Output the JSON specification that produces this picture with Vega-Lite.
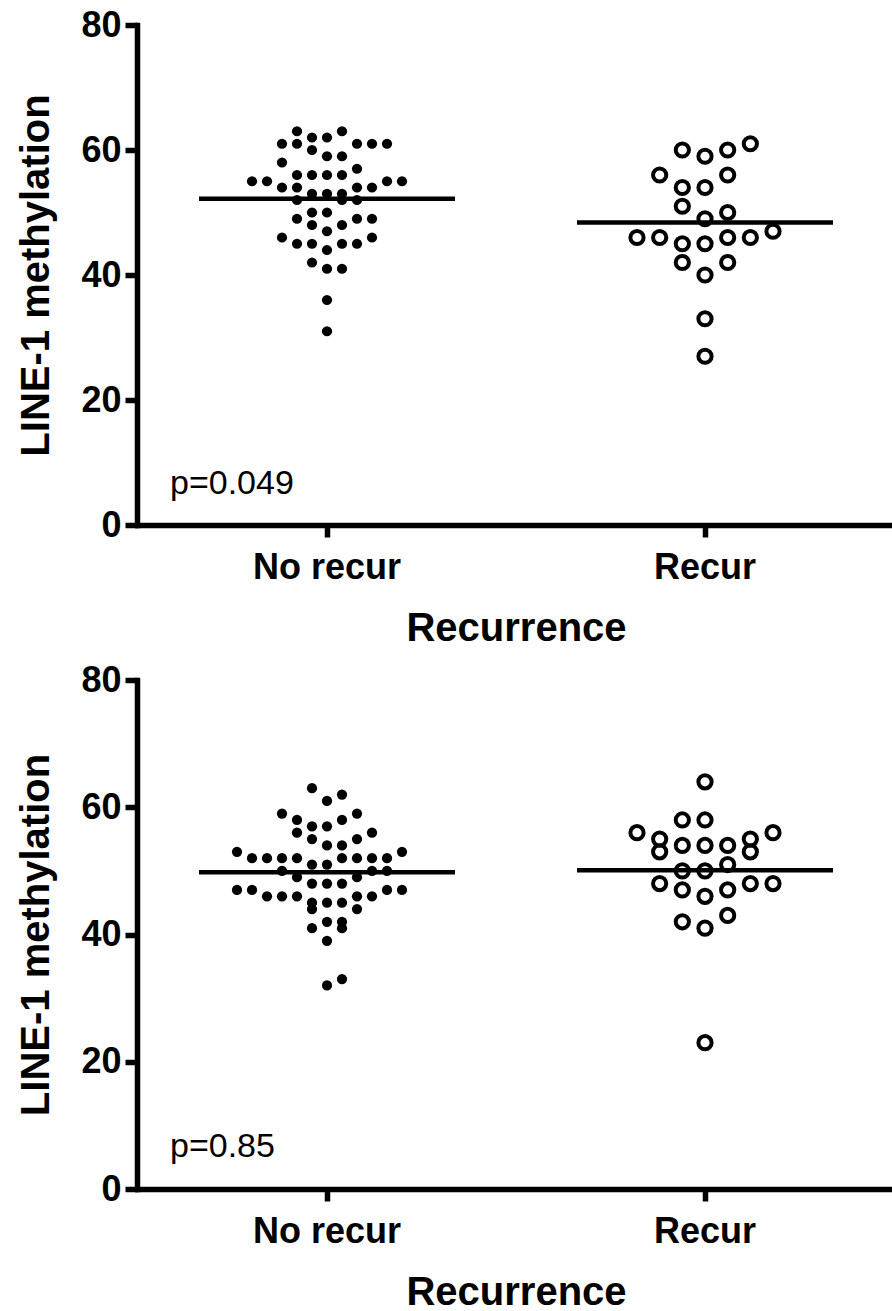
{
  "$schema": "https://vega.github.io/schema/vega-lite/v6.json",
  "padding": {"left": 16, "top": 7, "right": 0, "bottom": 0},
  "background": "white",
  "config": {
    "view": {"stroke": null},
    "font": "Liberation Sans",
    "axis": {
      "domainColor": "black", "domainWidth": 5.5, "domainCap": "square",
      "tickColor": "black", "tickWidth": 5.5, "tickSize": 12,
      "labelFont": "Liberation Sans", "labelFontWeight": "bold", "labelFontSize": 36, "labelColor": "black",
      "titleFont": "Liberation Sans", "titleFontWeight": "bold", "titleFontSize": 40, "titleColor": "black",
      "grid": false
    }
  },
  "datasets": {
    "points": [
      {"panel": "top", "group": "No recur", "value": 63, "slot": -2},
      {"panel": "top", "group": "No recur", "value": 63, "slot": 1},
      {"panel": "top", "group": "No recur", "value": 62, "slot": -1},
      {"panel": "top", "group": "No recur", "value": 62, "slot": 0},
      {"panel": "top", "group": "No recur", "value": 61, "slot": -3},
      {"panel": "top", "group": "No recur", "value": 61, "slot": -2},
      {"panel": "top", "group": "No recur", "value": 61, "slot": 2},
      {"panel": "top", "group": "No recur", "value": 61, "slot": 3},
      {"panel": "top", "group": "No recur", "value": 61, "slot": 4},
      {"panel": "top", "group": "No recur", "value": 60, "slot": -1},
      {"panel": "top", "group": "No recur", "value": 59, "slot": 0},
      {"panel": "top", "group": "No recur", "value": 59, "slot": 1},
      {"panel": "top", "group": "No recur", "value": 58, "slot": -3},
      {"panel": "top", "group": "No recur", "value": 57, "slot": 2},
      {"panel": "top", "group": "No recur", "value": 56, "slot": -2},
      {"panel": "top", "group": "No recur", "value": 56, "slot": -1},
      {"panel": "top", "group": "No recur", "value": 56, "slot": 0},
      {"panel": "top", "group": "No recur", "value": 56, "slot": 1},
      {"panel": "top", "group": "No recur", "value": 55, "slot": -5},
      {"panel": "top", "group": "No recur", "value": 55, "slot": -4},
      {"panel": "top", "group": "No recur", "value": 55, "slot": 4},
      {"panel": "top", "group": "No recur", "value": 55, "slot": 5},
      {"panel": "top", "group": "No recur", "value": 54, "slot": -3},
      {"panel": "top", "group": "No recur", "value": 54, "slot": -2},
      {"panel": "top", "group": "No recur", "value": 54, "slot": 2},
      {"panel": "top", "group": "No recur", "value": 54, "slot": 3},
      {"panel": "top", "group": "No recur", "value": 53, "slot": -1},
      {"panel": "top", "group": "No recur", "value": 53, "slot": 0},
      {"panel": "top", "group": "No recur", "value": 53, "slot": 1},
      {"panel": "top", "group": "No recur", "value": 52, "slot": -2},
      {"panel": "top", "group": "No recur", "value": 52, "slot": 1},
      {"panel": "top", "group": "No recur", "value": 52, "slot": 2},
      {"panel": "top", "group": "No recur", "value": 50, "slot": -1},
      {"panel": "top", "group": "No recur", "value": 50, "slot": 0},
      {"panel": "top", "group": "No recur", "value": 49, "slot": -2},
      {"panel": "top", "group": "No recur", "value": 49, "slot": 2},
      {"panel": "top", "group": "No recur", "value": 49, "slot": 3},
      {"panel": "top", "group": "No recur", "value": 48, "slot": -1},
      {"panel": "top", "group": "No recur", "value": 48, "slot": 1},
      {"panel": "top", "group": "No recur", "value": 47, "slot": 0},
      {"panel": "top", "group": "No recur", "value": 46, "slot": -3},
      {"panel": "top", "group": "No recur", "value": 46, "slot": 3},
      {"panel": "top", "group": "No recur", "value": 45, "slot": -2},
      {"panel": "top", "group": "No recur", "value": 45, "slot": -1},
      {"panel": "top", "group": "No recur", "value": 45, "slot": 1},
      {"panel": "top", "group": "No recur", "value": 45, "slot": 2},
      {"panel": "top", "group": "No recur", "value": 44, "slot": 0},
      {"panel": "top", "group": "No recur", "value": 42, "slot": -1},
      {"panel": "top", "group": "No recur", "value": 41, "slot": 0},
      {"panel": "top", "group": "No recur", "value": 41, "slot": 1},
      {"panel": "top", "group": "No recur", "value": 36, "slot": 0},
      {"panel": "top", "group": "No recur", "value": 31, "slot": 0},

      {"panel": "top", "group": "Recur", "value": 61, "slot": 2},
      {"panel": "top", "group": "Recur", "value": 60, "slot": -1},
      {"panel": "top", "group": "Recur", "value": 60, "slot": 1},
      {"panel": "top", "group": "Recur", "value": 59, "slot": 0},
      {"panel": "top", "group": "Recur", "value": 56, "slot": -2},
      {"panel": "top", "group": "Recur", "value": 56, "slot": 1},
      {"panel": "top", "group": "Recur", "value": 54, "slot": -1},
      {"panel": "top", "group": "Recur", "value": 54, "slot": 0},
      {"panel": "top", "group": "Recur", "value": 51, "slot": -1},
      {"panel": "top", "group": "Recur", "value": 50, "slot": 1},
      {"panel": "top", "group": "Recur", "value": 49, "slot": 0},
      {"panel": "top", "group": "Recur", "value": 47, "slot": 3},
      {"panel": "top", "group": "Recur", "value": 46, "slot": -3},
      {"panel": "top", "group": "Recur", "value": 46, "slot": -2},
      {"panel": "top", "group": "Recur", "value": 46, "slot": 1},
      {"panel": "top", "group": "Recur", "value": 46, "slot": 2},
      {"panel": "top", "group": "Recur", "value": 45, "slot": -1},
      {"panel": "top", "group": "Recur", "value": 45, "slot": 0},
      {"panel": "top", "group": "Recur", "value": 42, "slot": -1},
      {"panel": "top", "group": "Recur", "value": 42, "slot": 1},
      {"panel": "top", "group": "Recur", "value": 40, "slot": 0},
      {"panel": "top", "group": "Recur", "value": 33, "slot": 0},
      {"panel": "top", "group": "Recur", "value": 27, "slot": 0},

      {"panel": "bottom", "group": "No recur", "value": 63, "slot": -1},
      {"panel": "bottom", "group": "No recur", "value": 62, "slot": 1},
      {"panel": "bottom", "group": "No recur", "value": 61, "slot": 0},
      {"panel": "bottom", "group": "No recur", "value": 59, "slot": -3},
      {"panel": "bottom", "group": "No recur", "value": 59, "slot": 2},
      {"panel": "bottom", "group": "No recur", "value": 58, "slot": -2},
      {"panel": "bottom", "group": "No recur", "value": 58, "slot": 1},
      {"panel": "bottom", "group": "No recur", "value": 57, "slot": -1},
      {"panel": "bottom", "group": "No recur", "value": 57, "slot": 0},
      {"panel": "bottom", "group": "No recur", "value": 56, "slot": -2},
      {"panel": "bottom", "group": "No recur", "value": 56, "slot": 3},
      {"panel": "bottom", "group": "No recur", "value": 55, "slot": -1},
      {"panel": "bottom", "group": "No recur", "value": 55, "slot": 2},
      {"panel": "bottom", "group": "No recur", "value": 54, "slot": 0},
      {"panel": "bottom", "group": "No recur", "value": 54, "slot": 1},
      {"panel": "bottom", "group": "No recur", "value": 53, "slot": -6},
      {"panel": "bottom", "group": "No recur", "value": 53, "slot": 5},
      {"panel": "bottom", "group": "No recur", "value": 52, "slot": -5},
      {"panel": "bottom", "group": "No recur", "value": 52, "slot": -4},
      {"panel": "bottom", "group": "No recur", "value": 52, "slot": -3},
      {"panel": "bottom", "group": "No recur", "value": 52, "slot": -2},
      {"panel": "bottom", "group": "No recur", "value": 52, "slot": 1},
      {"panel": "bottom", "group": "No recur", "value": 52, "slot": 2},
      {"panel": "bottom", "group": "No recur", "value": 52, "slot": 3},
      {"panel": "bottom", "group": "No recur", "value": 52, "slot": 4},
      {"panel": "bottom", "group": "No recur", "value": 51, "slot": -1},
      {"panel": "bottom", "group": "No recur", "value": 51, "slot": 0},
      {"panel": "bottom", "group": "No recur", "value": 50, "slot": -3},
      {"panel": "bottom", "group": "No recur", "value": 50, "slot": 3},
      {"panel": "bottom", "group": "No recur", "value": 50, "slot": 4},
      {"panel": "bottom", "group": "No recur", "value": 49, "slot": -2},
      {"panel": "bottom", "group": "No recur", "value": 49, "slot": 2},
      {"panel": "bottom", "group": "No recur", "value": 48, "slot": -1},
      {"panel": "bottom", "group": "No recur", "value": 48, "slot": 0},
      {"panel": "bottom", "group": "No recur", "value": 48, "slot": 1},
      {"panel": "bottom", "group": "No recur", "value": 47, "slot": -6},
      {"panel": "bottom", "group": "No recur", "value": 47, "slot": -5},
      {"panel": "bottom", "group": "No recur", "value": 47, "slot": 4},
      {"panel": "bottom", "group": "No recur", "value": 47, "slot": 5},
      {"panel": "bottom", "group": "No recur", "value": 46, "slot": -4},
      {"panel": "bottom", "group": "No recur", "value": 46, "slot": -3},
      {"panel": "bottom", "group": "No recur", "value": 46, "slot": -2},
      {"panel": "bottom", "group": "No recur", "value": 46, "slot": 2},
      {"panel": "bottom", "group": "No recur", "value": 46, "slot": 3},
      {"panel": "bottom", "group": "No recur", "value": 45, "slot": -1},
      {"panel": "bottom", "group": "No recur", "value": 45, "slot": 0},
      {"panel": "bottom", "group": "No recur", "value": 45, "slot": 1},
      {"panel": "bottom", "group": "No recur", "value": 44, "slot": -1},
      {"panel": "bottom", "group": "No recur", "value": 44, "slot": 2},
      {"panel": "bottom", "group": "No recur", "value": 42, "slot": 0},
      {"panel": "bottom", "group": "No recur", "value": 42, "slot": 1},
      {"panel": "bottom", "group": "No recur", "value": 41, "slot": -1},
      {"panel": "bottom", "group": "No recur", "value": 41, "slot": 1},
      {"panel": "bottom", "group": "No recur", "value": 39, "slot": 0},
      {"panel": "bottom", "group": "No recur", "value": 33, "slot": 1},
      {"panel": "bottom", "group": "No recur", "value": 32, "slot": 0},

      {"panel": "bottom", "group": "Recur", "value": 64, "slot": 0},
      {"panel": "bottom", "group": "Recur", "value": 58, "slot": -1},
      {"panel": "bottom", "group": "Recur", "value": 58, "slot": 0},
      {"panel": "bottom", "group": "Recur", "value": 56, "slot": -3},
      {"panel": "bottom", "group": "Recur", "value": 56, "slot": 3},
      {"panel": "bottom", "group": "Recur", "value": 55, "slot": -2},
      {"panel": "bottom", "group": "Recur", "value": 55, "slot": 2},
      {"panel": "bottom", "group": "Recur", "value": 54, "slot": -1},
      {"panel": "bottom", "group": "Recur", "value": 54, "slot": 0},
      {"panel": "bottom", "group": "Recur", "value": 54, "slot": 1},
      {"panel": "bottom", "group": "Recur", "value": 53, "slot": -2},
      {"panel": "bottom", "group": "Recur", "value": 53, "slot": 2},
      {"panel": "bottom", "group": "Recur", "value": 51, "slot": 1},
      {"panel": "bottom", "group": "Recur", "value": 50, "slot": -1},
      {"panel": "bottom", "group": "Recur", "value": 50, "slot": 0},
      {"panel": "bottom", "group": "Recur", "value": 48, "slot": -2},
      {"panel": "bottom", "group": "Recur", "value": 48, "slot": 2},
      {"panel": "bottom", "group": "Recur", "value": 48, "slot": 3},
      {"panel": "bottom", "group": "Recur", "value": 47, "slot": -1},
      {"panel": "bottom", "group": "Recur", "value": 47, "slot": 1},
      {"panel": "bottom", "group": "Recur", "value": 46, "slot": 0},
      {"panel": "bottom", "group": "Recur", "value": 43, "slot": 1},
      {"panel": "bottom", "group": "Recur", "value": 42, "slot": -1},
      {"panel": "bottom", "group": "Recur", "value": 41, "slot": 0},
      {"panel": "bottom", "group": "Recur", "value": 23, "slot": 0}
    ],
    "means": [
      {"panel": "top", "group": "No recur", "value": 52.2},
      {"panel": "top", "group": "Recur", "value": 48.4},
      {"panel": "bottom", "group": "No recur", "value": 49.8},
      {"panel": "bottom", "group": "Recur", "value": 50.1}
    ],
    "pvals": [
      {"panel": "top", "group": "No recur", "value": 5.0, "label": "p=0.049"},
      {"panel": "bottom", "group": "No recur", "value": 5.0, "label": "p=0.85"}
    ]
  },
  "resolve": {"scale": {"y": "independent", "x": "independent"}},
  "spacing": 14,
  "vconcat": [
    {
      "width": 753, "height": 500,
      "resolve": {"scale": {"xOffset": "independent"}},
      "layer": [
        {
          "data": {"name": "points"},
          "transform": [{"filter": "datum.panel == 'top' && datum.group == 'No recur'"}],
          "mark": {"type": "point", "shape": "circle", "filled": true, "color": "black", "opacity": 1, "size": 105},
          "encoding": {
            "x": {"field": "group", "type": "nominal", "scale": {"domain": ["No recur", "Recur"], "range": [1, 757], "paddingInner": 0, "paddingOuter": 0},
                  "axis": {"title": "Recurrence", "labelAngle": 0, "labelPadding": 13, "titlePadding": 23}},
            "xOffset": {"field": "slot", "type": "quantitative", "scale": {"domain": [-5, 5], "range": [114, 264]}},
            "y": {"field": "value", "type": "quantitative", "scale": {"domain": [0, 80], "nice": false},
                  "axis": {"title": "LINE-1 methylation", "values": [0, 20, 40, 60, 80], "labelPadding": 4, "titlePadding": 24}}
          }
        },
        {
          "data": {"name": "points"},
          "transform": [{"filter": "datum.panel == 'top' && datum.group == 'Recur'"}],
          "mark": {"type": "point", "shape": "circle", "filled": false, "color": "black", "opacity": 1, "strokeWidth": 4, "size": 175},
          "encoding": {
            "x": {"field": "group", "type": "nominal"},
            "xOffset": {"field": "slot", "type": "quantitative", "scale": {"domain": [-3, 3], "range": [121, 257]}},
            "y": {"field": "value", "type": "quantitative"}
          }
        },
        {
          "data": {"name": "means"},
          "transform": [{"filter": "datum.panel == 'top'"}],
          "mark": {"type": "tick", "color": "black", "opacity": 1, "size": 256, "thickness": 4.5},
          "encoding": {
            "x": {"field": "group", "type": "nominal"},
            "y": {"field": "value", "type": "quantitative"}
          }
        },
        {
          "data": {"name": "pvals"},
          "transform": [{"filter": "datum.panel == 'top'"}],
          "mark": {"type": "text", "align": "left", "baseline": "alphabetic", "dx": -157, "font": "Liberation Sans", "fontSize": 34, "color": "black"},
          "encoding": {
            "x": {"field": "group", "type": "nominal"},
            "y": {"field": "value", "type": "quantitative"},
            "text": {"field": "label"}
          }
        }
      ]
    },
    {
      "width": 753, "height": 509,
      "resolve": {"scale": {"xOffset": "independent"}},
      "layer": [
        {
          "data": {"name": "points"},
          "transform": [{"filter": "datum.panel == 'bottom' && datum.group == 'No recur'"}],
          "mark": {"type": "point", "shape": "circle", "filled": true, "color": "black", "opacity": 1, "size": 105},
          "encoding": {
            "x": {"field": "group", "type": "nominal", "scale": {"domain": ["No recur", "Recur"], "range": [1, 757], "paddingInner": 0, "paddingOuter": 0},
                  "axis": {"title": "Recurrence", "labelAngle": 0, "labelPadding": 13, "titlePadding": 23}},
            "xOffset": {"field": "slot", "type": "quantitative", "scale": {"domain": [-5, 5], "range": [114, 264]}},
            "y": {"field": "value", "type": "quantitative", "scale": {"domain": [0, 80], "nice": false},
                  "axis": {"title": "LINE-1 methylation", "values": [0, 20, 40, 60, 80], "labelPadding": 4, "titlePadding": 24}}
          }
        },
        {
          "data": {"name": "points"},
          "transform": [{"filter": "datum.panel == 'bottom' && datum.group == 'Recur'"}],
          "mark": {"type": "point", "shape": "circle", "filled": false, "color": "black", "opacity": 1, "strokeWidth": 4, "size": 175},
          "encoding": {
            "x": {"field": "group", "type": "nominal"},
            "xOffset": {"field": "slot", "type": "quantitative", "scale": {"domain": [-3, 3], "range": [121, 257]}},
            "y": {"field": "value", "type": "quantitative"}
          }
        },
        {
          "data": {"name": "means"},
          "transform": [{"filter": "datum.panel == 'bottom'"}],
          "mark": {"type": "tick", "color": "black", "opacity": 1, "size": 256, "thickness": 4.5},
          "encoding": {
            "x": {"field": "group", "type": "nominal"},
            "y": {"field": "value", "type": "quantitative"}
          }
        },
        {
          "data": {"name": "pvals"},
          "transform": [{"filter": "datum.panel == 'bottom'"}],
          "mark": {"type": "text", "align": "left", "baseline": "alphabetic", "dx": -157, "font": "Liberation Sans", "fontSize": 34, "color": "black"},
          "encoding": {
            "x": {"field": "group", "type": "nominal"},
            "y": {"field": "value", "type": "quantitative"},
            "text": {"field": "label"}
          }
        }
      ]
    }
  ]
}
